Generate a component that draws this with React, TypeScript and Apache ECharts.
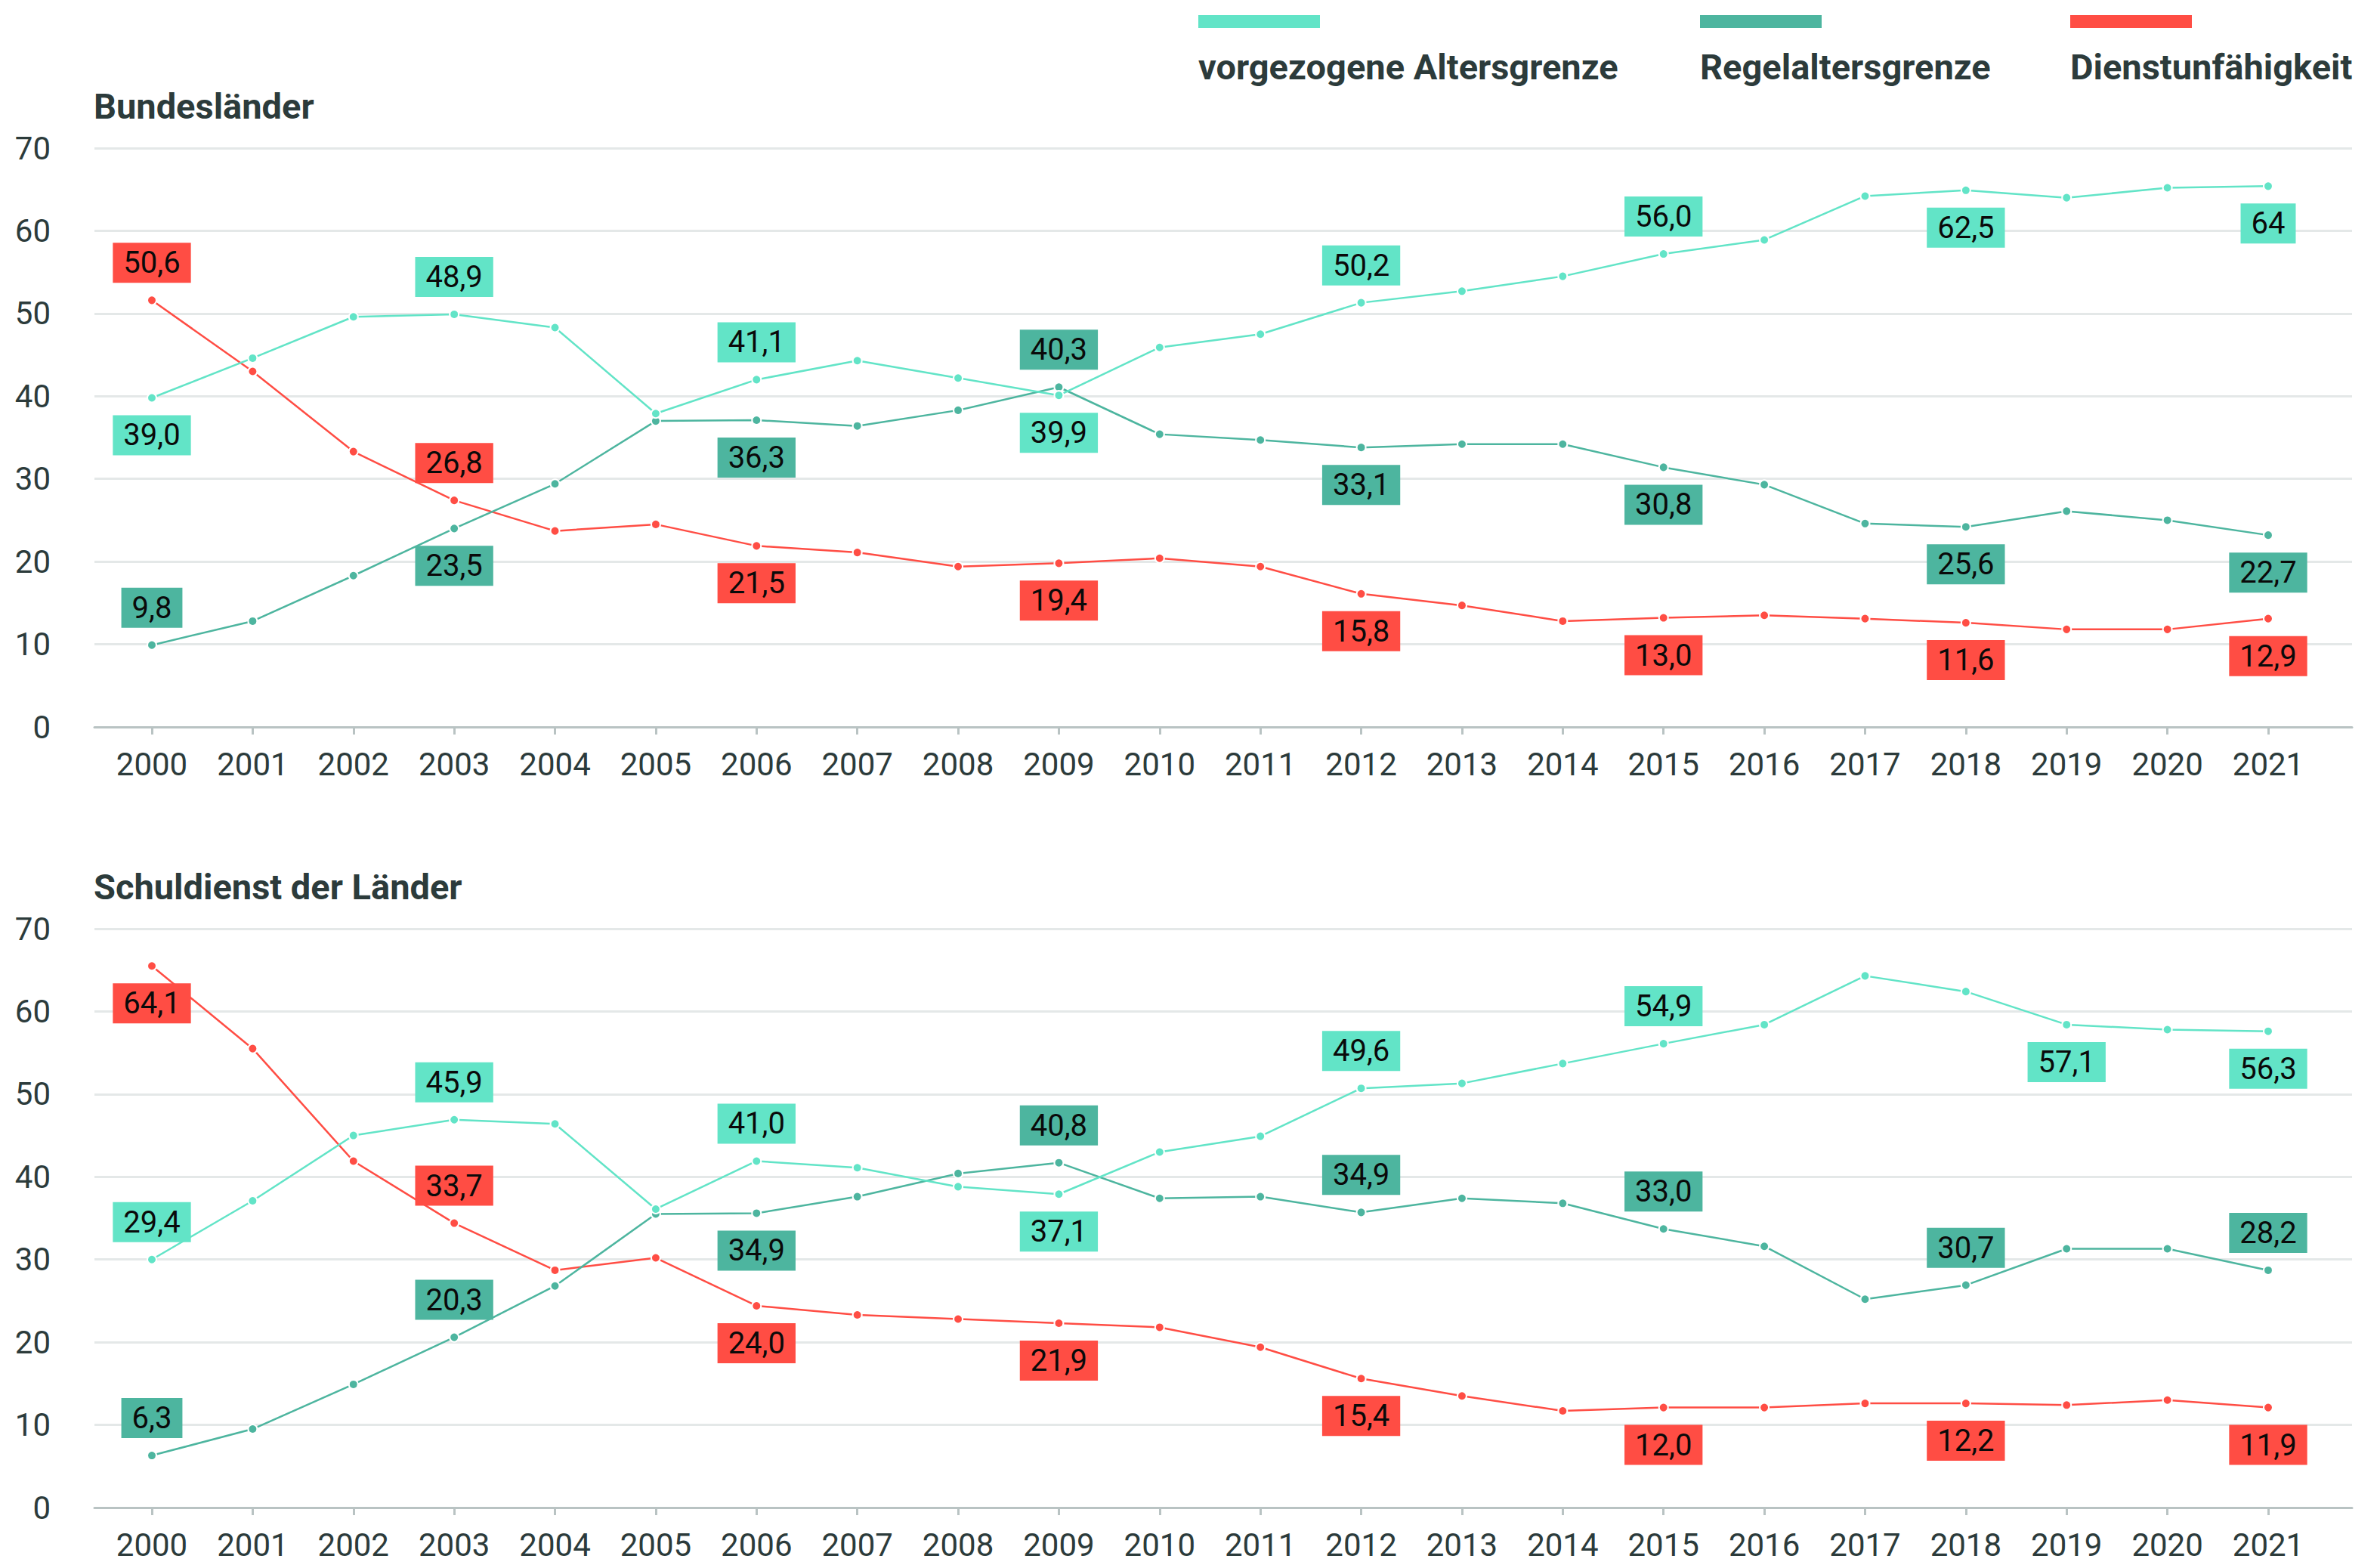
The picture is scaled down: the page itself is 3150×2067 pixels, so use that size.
import React, { useEffect, useRef } from "react";
import * as echarts from "echarts";

const years = [
  "2000", "2001", "2002", "2003", "2004", "2005", "2006", "2007", "2008", "2009", "2010",
  "2011", "2012", "2013", "2014", "2015", "2016", "2017", "2018", "2019", "2020", "2021",
];
const yTicks = [0, 10, 20, 30, 40, 50, 60, 70];

const seriesNames = ["vorgezogene Altersgrenze", "Regelaltersgrenze", "Dienstunfähigkeit"];
const panelTitles = ["Bundesländer", "Schuldienst der Länder"];

// Bundesländer
const bundVorgezogen = [39.8, 44.6, 49.6, 49.9, 48.3, 37.9, 42.0, 44.3, 42.2, 40.1, 45.9, 47.5, 51.3, 52.7, 54.5, 57.2, 58.9, 64.2, 64.9, 64.0, 65.2, 65.4];
const bundRegel = [9.9, 12.8, 18.3, 24.0, 29.4, 37.0, 37.1, 36.4, 38.3, 41.1, 35.4, 34.7, 33.8, 34.2, 34.2, 31.4, 29.3, 24.6, 24.2, 26.1, 25.0, 23.2];
const bundDienst = [51.6, 43.0, 33.3, 27.4, 23.7, 24.5, 21.9, 21.1, 19.4, 19.8, 20.4, 19.4, 16.1, 14.7, 12.8, 13.2, 13.5, 13.1, 12.6, 11.8, 11.8, 13.1];

const bundVorgezogenLabels = ["39,0", "", "", "48,9", "", "", "41,1", "", "", "39,9", "", "", "50,2", "", "", "56,0", "", "", "62,5", "", "", "64"];
const bundRegelLabels = ["9,8", "", "", "23,5", "", "", "36,3", "", "", "40,3", "", "", "33,1", "", "", "30,8", "", "", "25,6", "", "", "22,7"];
const bundDienstLabels = ["50,6", "", "", "26,8", "", "", "21,5", "", "", "19,4", "", "", "15,8", "", "", "13,0", "", "", "11,6", "", "", "12,9"];

// Schuldienst der Länder
const schulVorgezogen = [30.0, 37.1, 45.0, 46.9, 46.4, 36.1, 41.9, 41.1, 38.8, 37.9, 43.0, 44.9, 50.7, 51.3, 53.7, 56.1, 58.4, 64.3, 62.4, 58.4, 57.8, 57.6];
const schulRegel = [6.3, 9.5, 14.9, 20.6, 26.8, 35.5, 35.6, 37.6, 40.4, 41.7, 37.4, 37.6, 35.7, 37.4, 36.8, 33.7, 31.6, 25.2, 26.9, 31.3, 31.3, 28.7];
const schulDienst = [65.5, 55.5, 41.9, 34.4, 28.7, 30.2, 24.4, 23.3, 22.8, 22.3, 21.8, 19.4, 15.6, 13.5, 11.7, 12.1, 12.1, 12.6, 12.6, 12.4, 13.0, 12.1];

const schulVorgezogenLabels = ["29,4", "", "", "45,9", "", "", "41,0", "", "", "37,1", "", "", "49,6", "", "", "54,9", "", "", "", "57,1", "", "56,3"];
const schulRegelLabels = ["6,3", "", "", "20,3", "", "", "34,9", "", "", "40,8", "", "", "34,9", "", "", "33,0", "", "", "30,7", "", "", "28,2"];
const schulDienstLabels = ["64,1", "", "", "33,7", "", "", "24,0", "", "", "21,9", "", "", "15,4", "", "", "12,0", "", "", "12,2", "", "", "11,9"];

// label placement (above = true)
const placeBundVorgezogen: Record<string, boolean> = { "2000": false, "2003": true, "2006": true, "2009": false, "2012": true, "2015": true, "2018": false, "2021": false };
const placeBundRegel: Record<string, boolean> = { "2000": true, "2003": false, "2006": false, "2009": true, "2012": false, "2015": false, "2018": false, "2021": false };
const placeBundDienst: Record<string, boolean> = { "2000": true, "2003": true, "2006": false, "2009": false, "2012": false, "2015": false, "2018": false, "2021": false };
const placeSchulVorgezogen: Record<string, boolean> = { "2000": true, "2003": true, "2006": true, "2009": false, "2012": true, "2015": true, "2019": false, "2021": false };
const placeSchulRegel: Record<string, boolean> = { "2000": true, "2003": true, "2006": false, "2009": true, "2012": true, "2015": true, "2018": true, "2021": true };
const placeSchulDienst: Record<string, boolean> = { "2000": false, "2003": true, "2006": false, "2009": false, "2012": false, "2015": false, "2018": false, "2021": false };

const COLORS = ["#62e4c7", "#4db59f", "#ff4d44"];
const FONT = "Roboto";
const TEXT_DARK = "#2c3b3b";

export default function App() {
  const ref = useRef<HTMLDivElement>(null);

  useEffect(() => {
    if (!ref.current) return;
    const chart = echarts.init(ref.current, null, { renderer: "svg" });

    const panels = [
      { top: 196, values: [bundVorgezogen, bundRegel, bundDienst], labels: [bundVorgezogenLabels, bundRegelLabels, bundDienstLabels], place: [placeBundVorgezogen, placeBundRegel, placeBundDienst] },
      { top: 1229, values: [schulVorgezogen, schulRegel, schulDienst], labels: [schulVorgezogenLabels, schulRegelLabels, schulDienstLabels], place: [placeSchulVorgezogen, placeSchulRegel, placeSchulDienst] },
    ];
    const H = 766;

    const grid: any[] = [];
    const xAxis: any[] = [];
    const yAxis: any[] = [];
    const series: any[] = [];

    panels.forEach((p, pi) => {
      const bg = pi * 2;
      const dg = pi * 2 + 1;
      grid.push({ left: 125, right: 37, top: p.top, height: H });
      grid.push({ left: 201, right: 148, top: p.top, height: H });
      xAxis.push({
        gridIndex: bg, type: "value", min: 0, max: 1,
        axisLine: { show: true, lineStyle: { color: "#b9c3c3", width: 3 } },
        axisTick: { show: false }, axisLabel: { show: false }, splitLine: { show: false },
      });
      xAxis.push({
        gridIndex: dg, type: "category", data: years, boundaryGap: false,
        axisLine: { show: false },
        axisTick: { show: true, length: 10, lineStyle: { color: "#b9c3c3", width: 3 } },
        axisLabel: { fontSize: 42, color: TEXT_DARK, margin: 28, fontFamily: FONT, interval: 0 },
        splitLine: { show: false },
      });
      yAxis.push({
        gridIndex: bg, type: "value", min: yTicks[0], max: yTicks[yTicks.length - 1], interval: 10,
        axisLine: { show: false }, axisTick: { show: false },
        axisLabel: { fontSize: 42, color: TEXT_DARK, margin: 58, fontFamily: FONT },
        splitLine: { show: true, lineStyle: { color: "#e4e8e8", width: 3 } },
      });
      yAxis.push({
        gridIndex: dg, type: "value", min: yTicks[0], max: yTicks[yTicks.length - 1], show: false,
        splitLine: { show: false },
      });

      p.values.forEach((vals, si) => {
        const color = COLORS[si];
        const data = vals.map((v, i) => {
          const txt = p.labels[si][i];
          if (!txt) return v;
          const above = p.place[si][years[i]];
          return {
            value: v,
            label: {
              show: true,
              position: above ? "top" : "bottom",
              formatter: txt,
            },
          };
        });
        series.push({
          type: "line",
          name: seriesNames[si],
          xAxisIndex: dg,
          yAxisIndex: dg,
          data,
          symbol: "circle",
          symbolSize: 12,
          showAllSymbol: true,
          silent: true,
          z: 3 - si,
          itemStyle: { color, borderColor: "#ffffff", borderWidth: 2 },
          lineStyle: { color, width: 2.5 },
          emphasis: { disabled: true },
          label: {
            show: false,
            backgroundColor: color,
            color: "#0a0a0a",
            fontSize: 40,
            fontFamily: FONT,
            lineHeight: 41,
            padding: [6, 14, 6, 14],
            distance: 16,
          },
        });
      });
    });

    const legendX = [1586, 2250, 2740];
    const graphic: any[] = [];
    seriesNames.forEach((n, i) => {
      graphic.push({
        type: "rect",
        shape: { x: legendX[i], y: 20, width: 161, height: 17 },
        style: { fill: COLORS[i] },
        silent: true,
      });
      graphic.push({
        type: "text",
        x: legendX[i],
        y: 88,
        style: {
          text: n,
          fill: TEXT_DARK,
          font: `bold 47px ${FONT}`,
          textAlign: "left",
          textVerticalAlign: "middle",
          verticalAlign: "middle",
        },
        silent: true,
      });
    });

    chart.setOption({
      animation: false,
      backgroundColor: "#ffffff",
      title: panelTitles.map((t, i) => ({
        text: t,
        left: 124,
        top: i === 0 ? 117 : 1150,
        padding: 0,
        textStyle: { fontSize: 47, fontWeight: "bold", color: TEXT_DARK, fontFamily: FONT },
      })),
      grid,
      xAxis,
      yAxis,
      series,
      graphic,
    });

    return () => chart.dispose();
  }, []);

  return (
    <div
      ref={ref}
      style={{ position: "fixed", left: 0, top: 0, width: 3150, height: 2067 }}
    />
  );
}
